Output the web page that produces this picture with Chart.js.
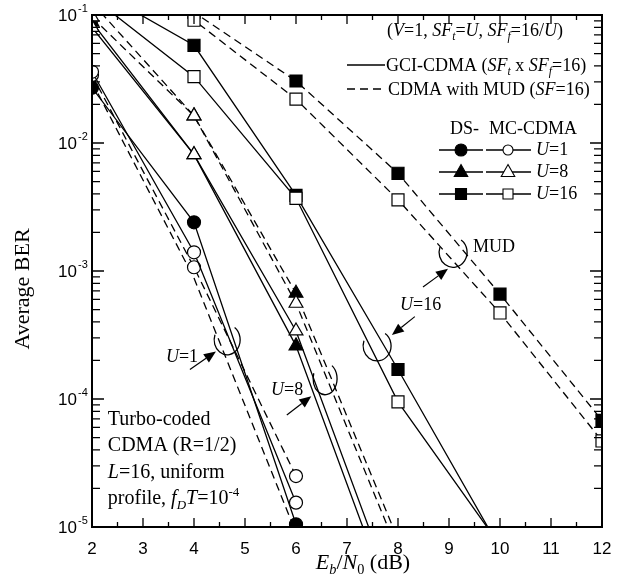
<!DOCTYPE html>
<html>
<head>
<meta charset="utf-8">
<script src="https://cdn.jsdelivr.net/npm/chart.js@4.4.1/dist/chart.umd.min.js"></script>
<style>
  html, body { margin: 0; padding: 0; background: #fff; }
  canvas { display: block; }
</style>
</head>
<body>
<canvas id="ber" width="625" height="588"></canvas>
<script>
// ===============================
// Data
// ===============================
const ebn0 = [2, 4, 6, 8, 10, 12];

// U=1
const mcGciU1 = [0.036, 0.0014, 1.55e-5];
const mcMudU1 = [0.034, 0.00107, 2.5e-5];
const dsGciU1 = [0.027, 0.0024, 1.05e-5];
const dsMudU1 = [0.030, 0.00088, 9e-6];

// U=8
const mcGciU8 = [0.080, 0.0081, 3.4e-4, 2.4e-6];
const mcMudU8 = [0.096, 0.0163, 5.6e-4, 6.4e-6];
const dsGciU8 = [0.088, 0.0081, 2.6e-4, 1.8e-6];
const dsMudU8 = [0.125, 0.0163, 6.7e-4, 8e-6];

// U=16
const mcGciU16 = [0.138, 0.033, 0.0037, 9.5e-5, 7.2e-6];
const mcMudU16 = [0.20, 0.091, 0.022, 0.0036, 4.7e-4, 4.7e-5];
const dsGciU16 = [0.165, 0.058, 0.0039, 1.7e-4, 6.8e-6];
const dsMudU16 = [0.33, 0.105, 0.0305, 0.0058, 6.6e-4, 6.8e-5];

const xTicks = [2, 3, 4, 5, 6, 7, 8, 9, 10, 11, 12];
const yDecades = [-5, -4, -3, -2, -1];

const SERIF = "'Liberation Serif', 'Times New Roman', serif";
const SANS = "'Liberation Sans', Arial, sans-serif";

// ===============================
// Helpers
// ===============================
function pts(values) {
  return values.map((y, i) => ({ x: ebn0[i], y })).filter(p => p.y != null);
}

function series(values, shape, filled, dashed, radius) {
  return {
    data: pts(values),
    borderColor: "#000",
    borderWidth: 1.3,
    borderDash: dashed ? [8, 5] : [],
    pointStyle: shape,
    pointRadius: radius,
    pointHoverRadius: radius,
    pointBorderWidth: 1.2,
    pointBorderColor: "#000",
    pointBackgroundColor: filled ? "#000" : "#fff",
    fill: false,
    tension: 0
  };
}

// rich text: runs of [text, flags] (i = italic, b = subscript, p = superscript)
function richWidth(ctx, runs, size) {
  let w = 0;
  runs.forEach(([t, f = ""]) => {
    const s = (f.includes("b") || f.includes("p")) ? size * 0.65 : size;
    ctx.font = (f.includes("i") ? "italic " : "") + s + "px " + SERIF;
    w += ctx.measureText(t).width;
  });
  return w;
}

function drawRich(ctx, runs, x, y, size, align) {
  if (align === "center") x -= richWidth(ctx, runs, size) / 2;
  ctx.textAlign = "left";
  ctx.textBaseline = "alphabetic";
  ctx.fillStyle = "#000";
  runs.forEach(([t, f = ""]) => {
    let s = size, dy = 0;
    if (f.includes("b")) { s = size * 0.65; dy = size * 0.22; }
    if (f.includes("p")) { s = size * 0.65; dy = -size * 0.42; }
    ctx.font = (f.includes("i") ? "italic " : "") + s + "px " + SERIF;
    ctx.fillText(t, x, y + dy);
    x += ctx.measureText(t).width;
  });
}

function marker(ctx, shape, x, y, r, filled) {
  ctx.save();
  ctx.beginPath();
  if (shape === "circle") {
    ctx.arc(x, y, r, 0, Math.PI * 2);
  } else if (shape === "triangle") {
    ctx.moveTo(x, y - r);
    ctx.lineTo(x + r * 0.9, y + r * 0.6);
    ctx.lineTo(x - r * 0.9, y + r * 0.6);
    ctx.closePath();
  } else {
    ctx.rect(x - r, y - r, 2 * r, 2 * r);
  }
  ctx.fillStyle = filled ? "#000" : "#fff";
  ctx.fill();
  ctx.lineWidth = 1.1;
  ctx.strokeStyle = "#000";
  ctx.stroke();
  ctx.restore();
}

function arrow(ctx, x1, y1, x2, y2) {
  const a = Math.atan2(y2 - y1, x2 - x1), L = 12, W = 5;
  ctx.beginPath();
  ctx.moveTo(x1, y1);
  ctx.lineTo(x2 - L * Math.cos(a), y2 - L * Math.sin(a));
  ctx.lineWidth = 1.2;
  ctx.stroke();
  ctx.beginPath();
  ctx.moveTo(x2, y2);
  ctx.lineTo(x2 - L * Math.cos(a) + W * Math.sin(a), y2 - L * Math.sin(a) - W * Math.cos(a));
  ctx.lineTo(x2 - L * Math.cos(a) - W * Math.sin(a), y2 - L * Math.sin(a) + W * Math.cos(a));
  ctx.closePath();
  ctx.fill();
}

// open loop drawn round a bundle of curves
function loop(ctx, cx, cy, rx, ry) {
  ctx.beginPath();
  ctx.ellipse(cx, cy, rx, ry, 0, -55 * Math.PI / 180, 200 * Math.PI / 180);
  ctx.lineWidth = 1.3;
  ctx.stroke();
}

// ===============================
// Frame, ticks, labels, notes
// ===============================
const decorations = {
  id: "decorations",
  afterDraw(chart) {
    const ctx = chart.ctx, a = chart.chartArea;
    const xs = chart.scales.x, ys = chart.scales.y;
    const P = (x, y) => [xs.getPixelForValue(x), ys.getPixelForValue(y)];
    ctx.save();
    ctx.strokeStyle = "#000";
    ctx.fillStyle = "#000";

    // frame
    ctx.lineWidth = 2;
    ctx.strokeRect(a.left, a.top, a.right - a.left, a.bottom - a.top);

    // x ticks (inward, bottom and top)
    ctx.lineWidth = 1.3;
    for (let v = 2; v <= 12.001; v += 0.5) {
      const px = xs.getPixelForValue(v);
      const len = Number.isInteger(v) ? 9 : 5;
      ctx.beginPath();
      ctx.moveTo(px, a.bottom); ctx.lineTo(px, a.bottom - len);
      ctx.moveTo(px, a.top); ctx.lineTo(px, a.top + len);
      ctx.stroke();
    }
    // y ticks (inward, left and right)
    yDecades.forEach(d => {
      for (let k = 1; k <= 9; k++) {
        const v = k * Math.pow(10, d);
        if (v > 0.1 + 1e-12) break;
        const py = ys.getPixelForValue(v);
        const len = k === 1 ? 12 : 8;
        ctx.beginPath();
        ctx.moveTo(a.left, py); ctx.lineTo(a.left + len, py);
        ctx.moveTo(a.right, py); ctx.lineTo(a.right - len, py);
        ctx.stroke();
      }
      // label 10^d
      const py = ys.getPixelForValue(Math.pow(10, d));
      ctx.font = "17px " + SANS;
      ctx.textAlign = "right";
      ctx.textBaseline = "middle";
      ctx.fillText("10", a.left - 15, py + 1);
      ctx.font = "11px " + SANS;
      ctx.textAlign = "left";
      ctx.textBaseline = "alphabetic";
      ctx.fillText(String(d), a.left - 14, py - 3);
    });

    // axis titles
    drawRich(ctx, [["E", "i"], ["b", "ib"], ["/"], ["N", "i"], ["0", "b"], [" (dB)"]],
      (a.left + a.right) / 2 + 16, 569, 22, "center");
    ctx.save();
    ctx.translate(29, 289);
    ctx.rotate(-Math.PI / 2);
    drawRich(ctx, [["Average BER"]], 0, 0, 22, "center");
    ctx.restore();

    // legend (top right)
    const lx = a.right - 217;
    drawRich(ctx, [["("], ["V", "i"], ["=1, "], ["SF", "i"], ["t", "ib"], ["="], ["U", "i"], [", "],
      ["SF", "i"], ["f", "ib"], ["=16/"], ["U", "i"], [")"]], lx + 2, 36, 18);
    ctx.lineWidth = 1.3;
    ctx.beginPath(); ctx.moveTo(lx - 38, 65); ctx.lineTo(lx, 65); ctx.stroke();
    drawRich(ctx, [["GCI-CDMA ("], ["SF", "i"], ["t", "ib"], [" x "], ["SF", "i"], ["f", "ib"], ["=16)"]],
      lx + 1, 71, 18);
    ctx.setLineDash([8, 5]);
    ctx.beginPath(); ctx.moveTo(lx - 38, 89); ctx.lineTo(lx, 89); ctx.stroke();
    ctx.setLineDash([]);
    drawRich(ctx, [["CDMA with MUD ("], ["SF", "i"], ["=16)"]], lx + 3, 95, 18);
    drawRich(ctx, [["DS-"]], lx + 65, 134, 18);
    drawRich(ctx, [["MC-CDMA"]], lx + 104, 134, 18);
    [["circle", "1", 150, 6, 5], ["triangle", "8", 172, 7.5, 7.5], ["rect", "16", 194, 5.5, 5]].forEach(([s, u, y, rf, ro]) => {
      ctx.beginPath();
      ctx.moveTo(lx + 54, y); ctx.lineTo(lx + 98, y);
      ctx.moveTo(lx + 101, y); ctx.lineTo(lx + 146, y);
      ctx.stroke();
      marker(ctx, s, lx + 76, y, rf, true);
      marker(ctx, s, lx + 123, y, ro, false);
      drawRich(ctx, [["U", "i"], ["=" + u]], lx + 151, y + 5, 18);
    });

    // notes
    let p = P(2.31, 6.3e-5);
    drawRich(ctx, [["Turbo-coded"]], p[0], p[1], 20);
    drawRich(ctx, [["CDMA (R=1/2)"]], p[0], p[1] + 26.5, 20);
    drawRich(ctx, [["L", "i"], ["=16, uniform"]], p[0], p[1] + 53, 20);
    drawRich(ctx, [["profile, "], ["f", "i"], ["D", "ib"], ["T", "i"], ["=10"], ["-4", "p"]], p[0], p[1] + 79.5, 20);

    ctx.lineWidth = 1.2;
    // U=1
    p = P(3.45, 1.95e-4); drawRich(ctx, [["U", "i"], ["=1"]], p[0], p[1], 18);
    arrow(ctx, ...P(3.92, 1.7e-4), ...P(4.43, 2.35e-4));
    loop(ctx, ...P(4.65, 2.9e-4), 13, 15);
    // U=8
    p = P(5.51, 1.07e-4); drawRich(ctx, [["U", "i"], ["=8"]], p[0], p[1], 18);
    arrow(ctx, ...P(5.82, 7.5e-5), ...P(6.30, 1.05e-4));
    loop(ctx, ...P(6.57, 1.44e-4), 12, 16);
    // U=16
    p = P(8.04, 5.0e-4); drawRich(ctx, [["U", "i"], ["=16"]], p[0], p[1], 18);
    arrow(ctx, ...P(8.33, 4.4e-4), ...P(7.88, 3.16e-4));
    loop(ctx, ...P(7.59, 2.6e-4), 14, 15);
    arrow(ctx, ...P(8.49, 7.5e-4), ...P(8.98, 1.04e-3));
    loop(ctx, ...P(9.08, 1.4e-3), 14, 15);
    p = P(9.47, 1.4e-3); drawRich(ctx, [["MUD"]], p[0], p[1], 18);

    ctx.restore();
  }
};

// ===============================
// Chart
// ===============================
new Chart(document.getElementById("ber"), {
  type: "line",
  data: {
    datasets: [
      series(mcGciU1, "circle", false, false, 6.5),
      series(mcMudU1, "circle", false, true, 6.5),
      series(dsGciU1, "circle", true, false, 6.5),
      series(dsMudU1, "circle", true, true, 0),
      series(mcGciU8, "triangle", false, false, 8),
      series(mcMudU8, "triangle", false, true, 8),
      series(dsGciU8, "triangle", true, false, 8),
      series(dsMudU8, "triangle", true, true, 8),
      series(mcGciU16, "rect", false, false, 8.5),
      series(mcMudU16, "rect", false, true, 8.5),
      series(dsGciU16, "rect", true, false, 8.5),
      series(dsMudU16, "rect", true, true, 8.5)
    ]
  },
  options: {
    responsive: false,
    animation: false,
    events: [],
    layout: { padding: { left: 0, right: 23, top: 15, bottom: 0 } },
    plugins: { legend: { display: false }, tooltip: { enabled: false } },
    scales: {
      x: {
        type: "linear",
        min: 2,
        max: 12,
        afterBuildTicks: s => { s.ticks = xTicks.map(v => ({ value: v })); },
        afterFit: s => { s.height = 61; },
        grid: { display: false, drawTicks: false },
        border: { display: false },
        ticks: { color: "#000", padding: 12, font: { family: SANS, size: 17 } }
      },
      y: {
        type: "logarithmic",
        min: 1e-5,
        max: 0.1,
        afterFit: s => { s.width = 92; },
        grid: { display: false, drawTicks: false },
        border: { display: false },
        ticks: { display: false }
      }
    }
  },
  plugins: [decorations]
});
</script>
</body>
</html>
